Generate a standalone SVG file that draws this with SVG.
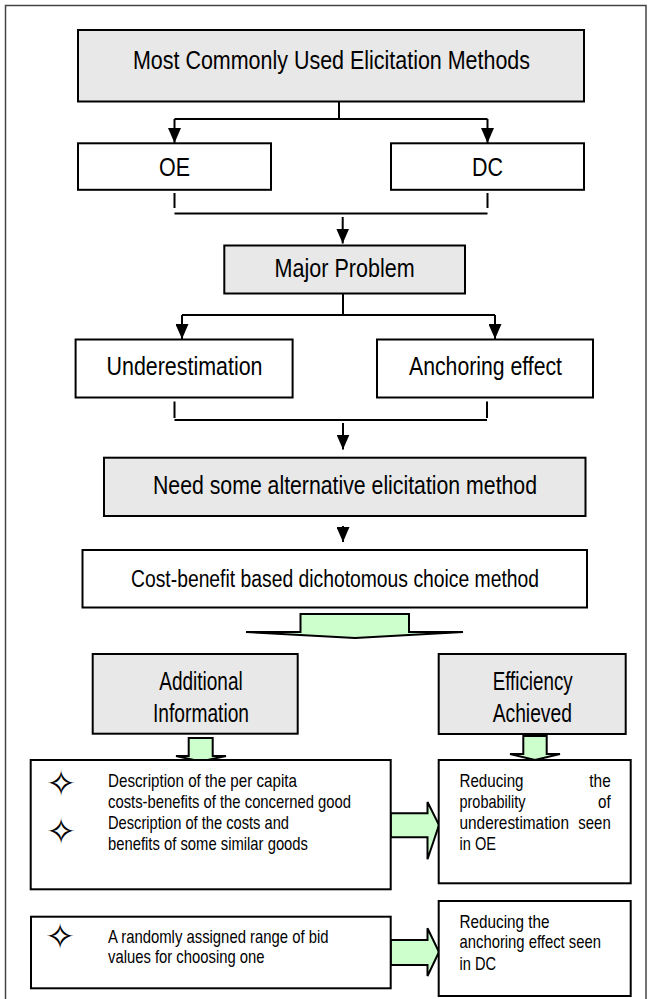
<svg xmlns="http://www.w3.org/2000/svg" width="648" height="999" viewBox="0 0 648 999">
<style>
.box{fill:#fff;stroke:#000;stroke-width:2}
.gbox{fill:#e8e8e8;stroke:#000;stroke-width:2}
.ln{stroke:#000;stroke-width:2;fill:none}
.blk{fill:#ccffcc;stroke:#000;stroke-width:2;stroke-linejoin:miter}
.t{font-family:"Liberation Sans Narrow","Liberation Sans",Arial,sans-serif;fill:#000}
.c{text-anchor:middle}
.L{font-size:25px}
.L2{font-size:23px}
.M{font-size:26px}
.S{font-size:19px}
.star{font-family:"DejaVu Sans",sans-serif;font-size:36px;text-anchor:middle;fill:#000}
</style>
<defs>
<marker id="ah" viewBox="0 0 15 13" refX="15" refY="6.5" markerWidth="15" markerHeight="13" markerUnits="userSpaceOnUse" orient="auto">
<path d="M0,0 L15,6.5 L0,13 z" fill="#000"/>
</marker>
</defs>
<rect x="5.5" y="5.5" width="640.5" height="1000" fill="#fff" stroke="#444" stroke-width="1.5"/>

<g id="connectors">
<path class="ln" d="M339,102 V119 M174.5,119 H487.5"/>
<line class="ln" x1="174.5" y1="119" x2="174.5" y2="143" marker-end="url(#ah)"/>
<line class="ln" x1="487.5" y1="119" x2="487.5" y2="143" marker-end="url(#ah)"/>
<path class="ln" d="M174.5,193 V208 M487.5,193 V208 M174.5,213.5 H487.5"/>
<line class="ln" x1="342.7" y1="217" x2="342.7" y2="243.5" marker-end="url(#ah)"/>
<path class="ln" d="M343,294 V315 M182,315 H495"/>
<line class="ln" x1="182" y1="315" x2="182" y2="339" marker-end="url(#ah)"/>
<line class="ln" x1="495" y1="315" x2="495" y2="339" marker-end="url(#ah)"/>
<path class="ln" d="M174.5,401.5 V418 M487,401.5 V418 M174.5,420 H487"/>
<line class="ln" x1="343" y1="423" x2="343" y2="449.5" marker-end="url(#ah)"/>
<line class="ln" x1="343" y1="526" x2="343" y2="542" marker-end="url(#ah)"/>
<polygon class="blk" points="300.5,614 409,614 409,632 463,632 355,638 246,632 300.5,632"/>
<polygon class="blk" points="188.7,738 212.7,738 212.7,756 226,756 200.7,761.5 176,756 188.7,756"/>
<polygon class="blk" points="523.3,736 546.7,736 546.7,754 560,754 535,760 510,754 523.3,754"/>
<polygon class="blk" points="390.7,813.3 427.5,813.3 427.5,802 439,825 427.5,859.3 427.5,837.3 390.7,837.3"/>
<polygon class="blk" points="390.7,940 427.5,940 427.5,928.3 439,952 427.5,976 427.5,965 390.7,965"/>
</g>

<g id="n-methods">
<rect class="gbox" x="78" y="30" width="506" height="71.5"/>
<text class="t c L" x="331.5" y="69" textLength="397" lengthAdjust="spacingAndGlyphs">Most Commonly Used Elicitation Methods</text>
</g>
<g id="n-oe">
<rect class="box" x="78" y="143.3" width="193" height="46.5"/>
<text class="t c L" x="174.5" y="175.5" textLength="31" lengthAdjust="spacingAndGlyphs">OE</text>
</g>
<g id="n-dc">
<rect class="box" x="391" y="143.3" width="193" height="46.5"/>
<text class="t c L" x="487.5" y="175.5" textLength="31" lengthAdjust="spacingAndGlyphs">DC</text>
</g>
<g id="n-major">
<rect class="gbox" x="224.3" y="245.5" width="240.7" height="48"/>
<text class="t c L" x="344.6" y="277.3" textLength="140" lengthAdjust="spacingAndGlyphs">Major Problem</text>
</g>
<g id="n-under">
<rect class="box" x="75.6" y="339.5" width="217" height="58"/>
<text class="t c L" x="184.5" y="375" textLength="156" lengthAdjust="spacingAndGlyphs">Underestimation</text>
</g>
<g id="n-anchor">
<rect class="box" x="377" y="339.5" width="216" height="58"/>
<text class="t c L" x="485.5" y="375" textLength="153" lengthAdjust="spacingAndGlyphs">Anchoring effect</text>
</g>
<g id="n-need">
<rect class="gbox" x="104" y="457.7" width="481.5" height="58.3"/>
<text class="t c L" x="345" y="494" textLength="384" lengthAdjust="spacingAndGlyphs">Need some alternative elicitation method</text>
</g>
<g id="n-cost">
<rect class="box" x="82.5" y="550" width="504.5" height="57.5"/>
<text class="t c L2" x="335" y="587" textLength="408" lengthAdjust="spacingAndGlyphs">Cost-benefit based dichotomous choice method</text>
</g>
<g id="n-additional">
<rect class="gbox" x="92.7" y="654" width="205" height="79.7"/>
<text class="t c M" x="201" y="690" textLength="83.4" lengthAdjust="spacingAndGlyphs">Additional</text>
<text class="t c M" x="201" y="722.3" textLength="96" lengthAdjust="spacingAndGlyphs">Information</text>
</g>
<g id="n-efficiency">
<rect class="gbox" x="438.7" y="654" width="187" height="80"/>
<text class="t c M" x="532.7" y="690" textLength="80" lengthAdjust="spacingAndGlyphs">Efficiency</text>
<text class="t c M" x="532.3" y="721.7" textLength="79.3" lengthAdjust="spacingAndGlyphs">Achieved</text>
</g>
<g id="n-info1">
<rect class="box" x="30.7" y="760" width="360" height="129.3"/>
<text class="star" x="61" y="796">✧</text>
<text class="t S" x="108" y="787" textLength="189" lengthAdjust="spacingAndGlyphs">Description of the per capita</text>
<text class="t S" x="108" y="807.5" textLength="243" lengthAdjust="spacingAndGlyphs">costs-benefits of the concerned good</text>
<text class="star" x="61" y="843.5">✧</text>
<text class="t S" x="108" y="829" textLength="181" lengthAdjust="spacingAndGlyphs">Description of the costs and</text>
<text class="t S" x="108" y="850" textLength="200" lengthAdjust="spacingAndGlyphs">benefits of some similar goods</text>
</g>
<g id="n-eff1">
<rect class="box" x="438.7" y="760" width="192" height="123.3"/>
<text class="t S" x="459.5" y="787" textLength="64" lengthAdjust="spacingAndGlyphs">Reducing</text>
<text class="t S" x="589.3" y="787" textLength="21.4" lengthAdjust="spacingAndGlyphs">the</text>
<text class="t S" x="459.5" y="807.5" textLength="66" lengthAdjust="spacingAndGlyphs">probability</text>
<text class="t S" x="598" y="807.5" textLength="12.7" lengthAdjust="spacingAndGlyphs">of</text>
<text class="t S" x="459.5" y="829" textLength="109.5" lengthAdjust="spacingAndGlyphs">underestimation</text>
<text class="t S" x="578.3" y="829" textLength="32.4" lengthAdjust="spacingAndGlyphs">seen</text>
<text class="t S" x="459.5" y="850" textLength="36.5" lengthAdjust="spacingAndGlyphs">in OE</text>
</g>
<g id="n-info2">
<rect class="box" x="31" y="916.7" width="359.7" height="71.6"/>
<text class="star" x="60" y="948.5">✧</text>
<text class="t S" x="108" y="943.3" textLength="220.5" lengthAdjust="spacingAndGlyphs">A randomly assigned range of bid</text>
<text class="t S" x="108" y="963.3" textLength="156.5" lengthAdjust="spacingAndGlyphs">values for choosing one</text>
</g>
<g id="n-eff2">
<rect class="box" x="438.7" y="901" width="192" height="95"/>
<text class="t S" x="459.5" y="928" textLength="90" lengthAdjust="spacingAndGlyphs">Reducing the</text>
<text class="t S" x="459.5" y="948.3" textLength="141.5" lengthAdjust="spacingAndGlyphs">anchoring effect seen</text>
<text class="t S" x="459.5" y="970" textLength="36.5" lengthAdjust="spacingAndGlyphs">in DC</text>
</g>
</svg>
